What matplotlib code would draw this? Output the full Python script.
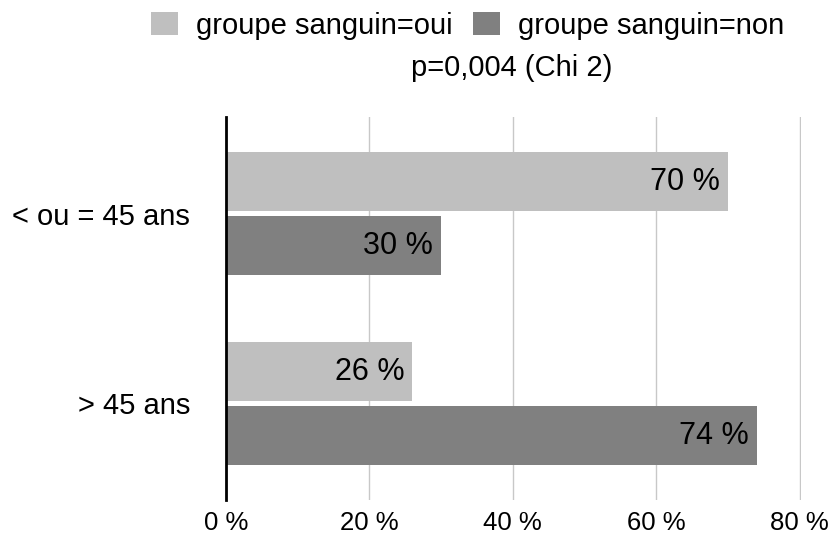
import matplotlib
matplotlib.use("Agg")
import matplotlib.pyplot as plt
import numpy as np
from matplotlib.patches import Patch

plt.rcParams['font.family'] = ['Liberation Sans', 'DejaVu Sans']

categories = ["< ou = 45 ans", "> 45 ans"]
oui = [70, 26]
non = [30, 74]
series_names = ["groupe sanguin=oui", "groupe sanguin=non"]
xticks = [0, 20, 40, 60, 80]
xticklabels = ["0 %", "20 %", "40 %", "60 %", "80 %"]
subtitle = "p=0,004 (Chi 2)"

c_oui = "#bfbfbf"
c_non = "#808080"

fig = plt.figure(figsize=(8.33, 5.35), dpi=100)
ax = fig.add_axes([226/833, 1-500/535, (801-226)/833, (500-117)/535])

y = np.arange(len(categories))
h = 59/190
off = 32/190
b1 = ax.barh(y - off, oui, height=h, color=c_oui, zorder=2)
b2 = ax.barh(y + off, non, height=h, color=c_non, zorder=2)

for bars, vals in ((b1, oui), (b2, non)):
    for rect, v in zip(bars, vals):
        ax.text(v - 1.1, rect.get_y() + rect.get_height()/2, f"{v} %",
                ha="right", va="center", fontsize=22, color="#000000", zorder=3)

ax.set_xlim(0, 80.2)
ax.set_ylim(1 + 96.5/190, -96.5/190)
ax.set_yticks(y)
ax.set_yticklabels(categories, fontsize=21)
ax.set_xticks(xticks)
ax.set_xticklabels(xticklabels, fontsize=18.5)
ax.tick_params(axis='both', length=0)
ax.tick_params(axis='x', pad=8)
ax.tick_params(axis='y', pad=26)
ax.grid(axis='x', color="#c8c8c8", linewidth=1, zorder=0)
for s in ("top", "right", "bottom"):
    ax.spines[s].set_visible(False)
ax.spines["left"].set_linewidth(2)
ax.spines["left"].set_color("#000000")
ax.spines["left"].set_zorder(4)

handles = [Patch(facecolor=c_oui, edgecolor='none'), Patch(facecolor=c_non, edgecolor='none')]
fig.legend(handles, series_names, loc="center", bbox_to_anchor=(467.5/833, 1-25.5/535),
           ncol=2, frameon=False, fontsize=21, handlelength=0.93, handleheight=0.86,
           handletextpad=0.59, columnspacing=0.72, borderpad=0, borderaxespad=0)
fig.text(512/833, 1-68/535, subtitle, ha="center", va="center", fontsize=21)

fig.savefig("out.png", dpi=100)
